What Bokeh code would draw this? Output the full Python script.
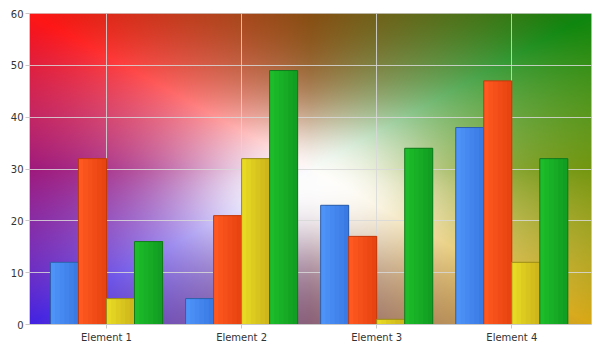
import numpy as np
from bokeh.plotting import figure
from bokeh.models import Range1d, FixedTicker
from bokeh.embed import file_html
from bokeh.resources import INLINE

categories = ["Element 1", "Element 2", "Element 3", "Element 4"]
series_blue = [12, 5, 23, 38]
series_orange = [32, 21, 17, 47]
series_yellow = [5, 32, 1, 12]
series_green = [16, 49, 34, 32]
y_ticks = [0, 10, 20, 30, 40, 50, 60]

series = [series_blue, series_orange, series_yellow, series_green]
left_cols = [(78, 148, 248), (255, 88, 32), (232, 218, 36), (28, 188, 42)]
right_cols = [(58, 122, 228), (232, 68, 18), (206, 182, 28), (18, 158, 34)]
line_cols = ["#2f5fa8", "#c23a0c", "#9a8a18", "#137a1c"]

X0, X1 = 0.43, 4.59
p = figure(frame_width=562, frame_height=311, width=600, height=351,
           x_range=Range1d(X0, X1), y_range=Range1d(0, 60),
           output_backend="svg", toolbar_location=None,
           min_border_left=29, min_border_right=9, min_border_top=13, min_border_bottom=27)
p.background_fill_color = "white"
p.border_fill_color = "white"
p.outline_line_color = "#d4d4d4"

# background gradient
W, H = 562, 311
u = (np.arange(W) + 0.5) / W
v = 1 - (np.arange(H) + 0.5) / H  # v downward, row 0 at bottom
U, V = np.meshgrid(u, v)
dx = 2 * U - 1
dy = 2 * V - 1
mx = np.maximum(np.maximum(np.abs(dx), np.abs(dy)), 1e-6)
px, py = dx / mx, dy / mx
uu, vv = (px + 1) / 2, (py + 1) / 2
TL = np.array([255, 22, 22]); TR = np.array([15, 135, 15])
BL = np.array([62, 28, 225]); BR = np.array([215, 165, 15])
col = ((1 - uu)[..., None] * (1 - vv)[..., None] * TL + uu[..., None] * (1 - vv)[..., None] * TR
       + (1 - uu)[..., None] * vv[..., None] * BL + uu[..., None] * vv[..., None] * BR)
cdx = 2 * U - 1
cdy = 2 * (V - 0.06) - 1
r = np.clip(np.sqrt(cdx ** 2 + cdy ** 2) / np.sqrt(2), 0, 1)
m = np.minimum(np.abs(U - V), np.abs(U + V - 1))
w = np.clip(1 - r, 0, 1) ** 1.3 * np.clip(1 - 2 * m, 0, 1) ** 0.8
w2 = 0.85 * np.exp(-(r / 0.26) ** 2)
w = 1 - (1 - w) * (1 - w2)
col = col * (1 - w[..., None]) + 255 * w[..., None]
img = np.zeros((H, W), dtype=np.uint32)
view = img.view(dtype=np.uint8).reshape((H, W, 4))
view[..., 0] = np.clip(col[..., 0], 0, 255)
view[..., 1] = np.clip(col[..., 1], 0, 255)
view[..., 2] = np.clip(col[..., 2], 0, 255)
view[..., 3] = 255
bg = p.image_rgba(image=[img], x=X0, y=0, dw=X1 - X0, dh=60)
bg.level = "image"

# bars
bw = 0.2074
N = 6
sw = bw / N
xc = np.arange(1, len(categories) + 1)
for j, vals in enumerate(series):
    off = (j - 1.5) * bw
    p.vbar(x=xc + off, width=bw, top=vals, bottom=0,
           fill_color="#%02x%02x%02x" % left_cols[j], line_color=None)
    for k in range(1, N):
        t = k / (N - 1)
        c = tuple(int(left_cols[j][i] * (1 - t) + right_cols[j][i] * t) for i in range(3))
        hexc = "#%02x%02x%02x" % c
        start = -bw / 2 + k * sw
        wdt = bw / 2 - start
        p.vbar(x=xc + off + start + wdt / 2, width=wdt, top=vals, bottom=0,
               fill_color=hexc, line_color=None)
    p.vbar(x=xc + off, width=bw, top=vals, bottom=0, fill_alpha=0,
           line_color=line_cols[j], line_width=1)

p.xgrid.grid_line_color = "#d8d8d8"
p.ygrid.grid_line_color = "#d8d8d8"
p.xgrid.grid_line_alpha = 0.85
p.ygrid.grid_line_alpha = 0.85

p.xaxis.ticker = FixedTicker(ticks=list(xc))
p.xaxis.major_label_overrides = {int(i): c for i, c in zip(xc, categories)}
p.yaxis.ticker = FixedTicker(ticks=y_ticks)
for ax in (p.xaxis, p.yaxis):
    ax.axis_line_color = "#c8c8c8"
    ax.major_tick_line_color = "#c8c8c8"
    ax.major_tick_out = 4
    ax.major_tick_in = 0
    ax.minor_tick_line_color = None
    ax.major_label_text_font = "DejaVu Sans"
    ax.major_label_text_font_size = "10px"
    ax.major_label_text_color = "#333333"
p.yaxis.major_label_standoff = 2
p.xaxis.major_label_standoff = 3

open("out.html", "w").write(file_html(p, INLINE))
